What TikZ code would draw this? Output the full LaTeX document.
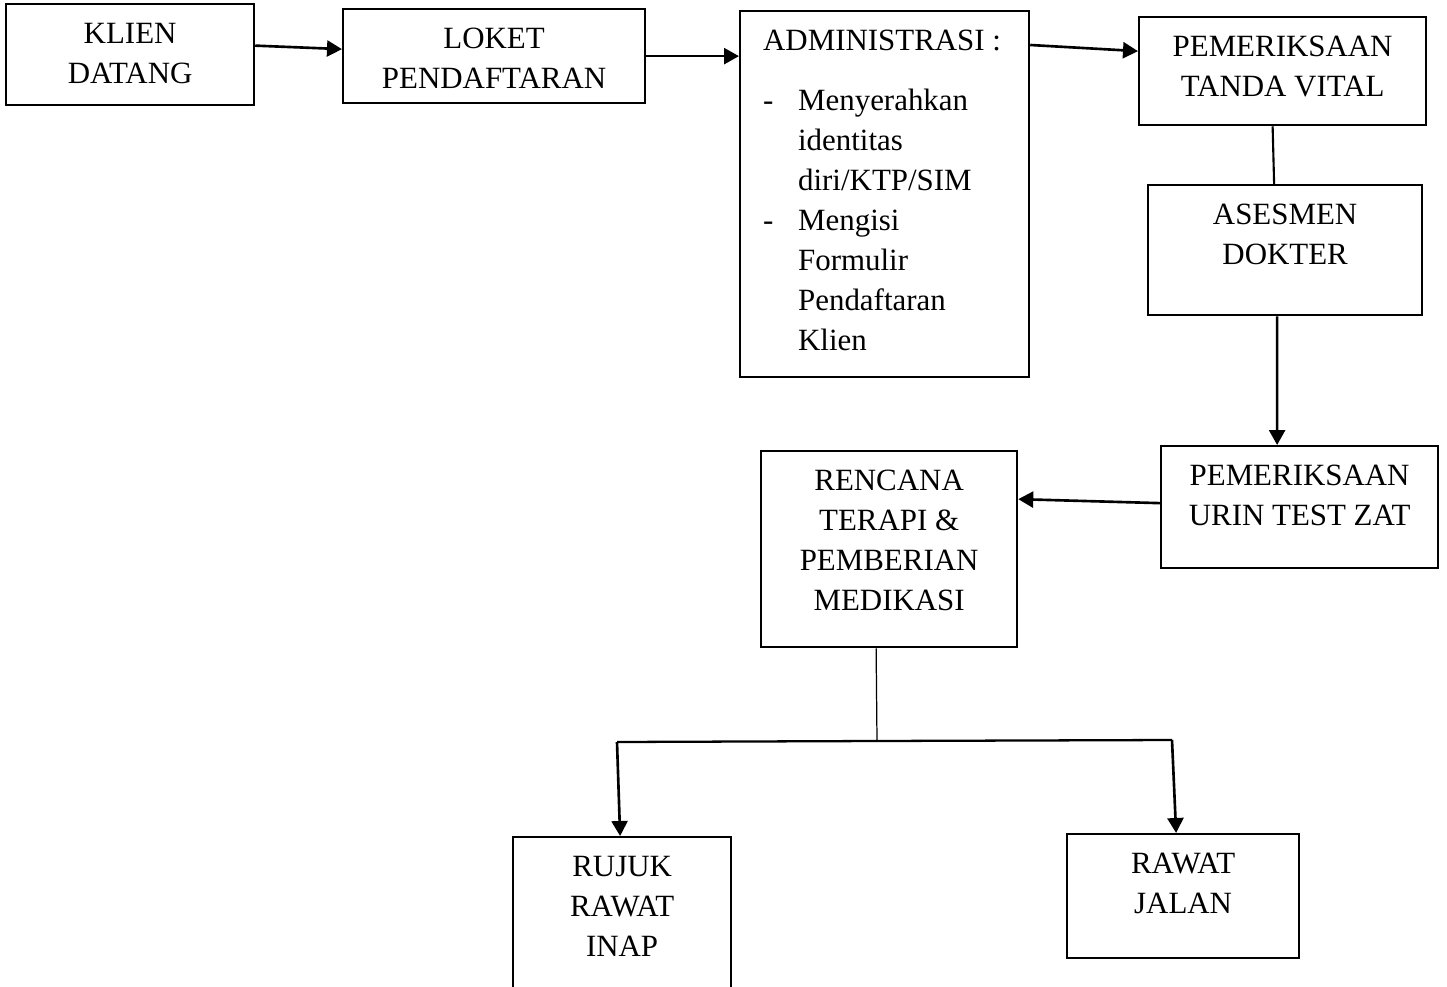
\documentclass[tikz,border=0pt]{standalone}
\usepackage{fontspec}
\setmainfont{Liberation Serif}
\usetikzlibrary{arrows.meta}
\newcommand{\boxtext}[3]{\parbox[c][#2][t]{#1}{\centering\vspace*{0.22cm}\strut #3}}

\begin{document}
\begin{tikzpicture}[x=0.02cm,y=-0.02cm]
    \tikzstyle{box} = [draw,line width=1.3pt,inner sep=0pt,anchor=north west,font=\fontsize{17.6pt}{22.8pt}\selectfont]
    \tikzstyle{link} = [line width=1.5pt,-{Triangle[length=0.3cm,width=0.32cm]}]
    \useasboundingbox (0, 0) rectangle (1447, 987);
    \clip (0, 0) rectangle (1447, 987);
    \node [box] (klien) at (5, 3) {\boxtext{4.96cm}{2.02cm}{KLIEN\\DATANG}};
    \node [box] (loket) at (342, 8) {\boxtext{6.04cm}{1.88cm}{LOKET\\PENDAFTARAN}};
    \node [box] (admin) at (739, 10) {\parbox[c][7.32cm][t]{5.78cm}{\vspace*{0.22cm}\hspace*{0.46cm}\begin{tabular}[t]{@{}p{0.7cm}@{}l@{}}
        \multicolumn{2}{@{}l@{}}{ADMINISTRASI :}\\[0.4cm]
        - & Menyerahkan\\
          & identitas\\
          & diri/KTP/SIM\\
        - & Mengisi\\
          & Formulir\\
          & Pendaftaran\\
          & Klien
      \end{tabular}}};
    \node [box] (vital) at (1138, 16) {\boxtext{5.74cm}{2.16cm}{PEMERIKSAAN\\TANDA VITAL}};
    \node [box] (asesmen) at (1147, 184) {\boxtext{5.48cm}{2.6cm}{ASESMEN\\DOKTER}};
    \node [box] (urin) at (1160, 445) {\boxtext{5.54cm}{2.44cm}{PEMERIKSAAN\\URIN TEST ZAT}};
    \node [box] (rencana) at (760, 450) {\boxtext{5.12cm}{3.92cm}{RENCANA\\TERAPI \&\\PEMBERIAN\\MEDIKASI}};
    \node [box] (rujuk) at (512, 836) {\boxtext{4.36cm}{3.48cm}{RUJUK\\RAWAT\\INAP}};
    \node [box] (jalan) at (1066, 833) {\boxtext{4.64cm}{2.48cm}{RAWAT\\JALAN}};
    \coordinate (split) at (877, 741);
    \coordinate (lbranch) at (617, 742);
    \coordinate (rbranch) at (1172, 740);
    \draw [link] ([yshift=0.18cm]klien.east) -- ([yshift=0.14cm]loket.west);
    \draw [link] (loket.east) -- (admin.west |- loket.east);
    \draw [link] ([yshift=-0.7cm]admin.north east) -- ([yshift=0.4cm]vital.west);
    \draw [line width=1.2pt] ([xshift=-0.2cm]vital.south) -- ([xshift=-0.22cm]asesmen.north);
    \draw [link] ([xshift=-0.16cm]asesmen.south) -- ([xshift=-0.45cm]urin.north);
    \draw [link] ([yshift=0.08cm]urin.west) -- ([yshift=1cm]rencana.east);
    \draw [line width=0.7pt] ([xshift=-0.26cm]rencana.south) -- (split);
    \draw [line width=1.3pt] (lbranch) -- (split) -- (rbranch);
    \draw [link] (lbranch) -- ([xshift=-0.04cm]rujuk.north);
    \draw [link] (rbranch) -- ([xshift=-0.14cm]jalan.north);
\end{tikzpicture}
\end{document}
